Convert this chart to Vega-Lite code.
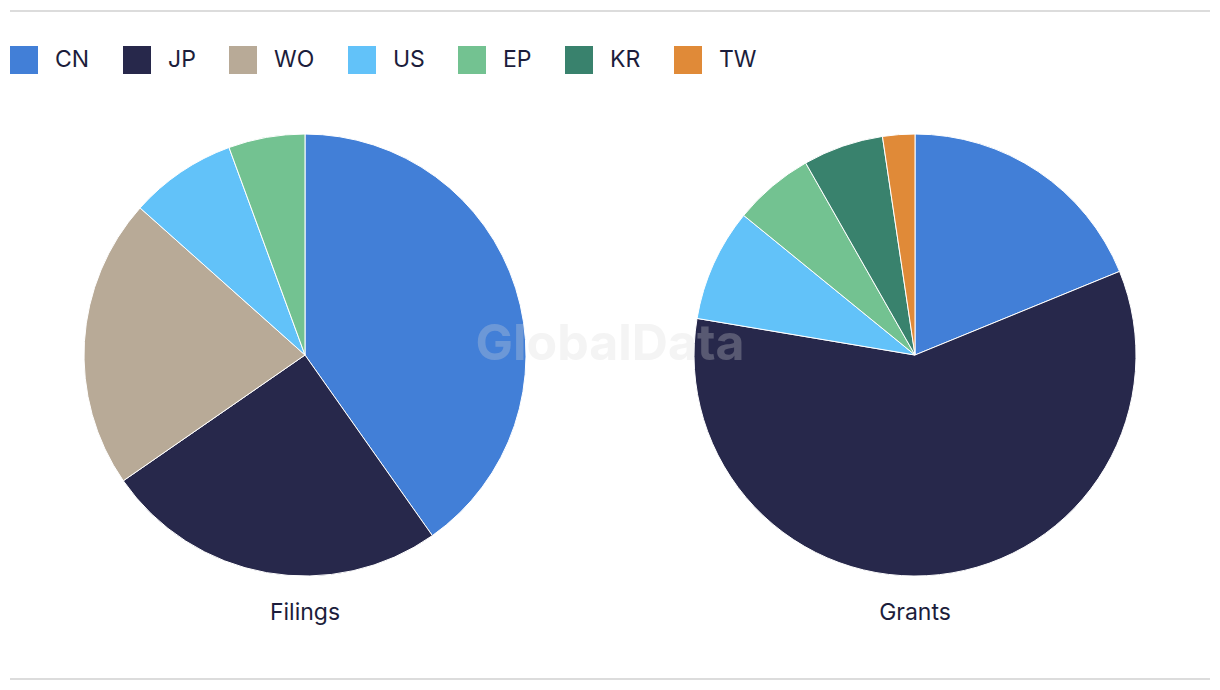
{
  "$schema": "https://vega.github.io/schema/vega-lite/v6.json",
  "width": 1200,
  "height": 668,
  "autosize": {"type": "none"},
  "padding": {"left": 10, "right": 10, "top": 11, "bottom": 11},
  "background": "white",
  "config": {"view": {"stroke": null}, "font": "Inter"},
  "data": {
    "values": [
      {"chart": "Filings", "country": "CN", "value": 72},
      {"chart": "Filings", "country": "JP", "value": 45},
      {"chart": "Filings", "country": "WO", "value": 38},
      {"chart": "Filings", "country": "US", "value": 14},
      {"chart": "Filings", "country": "EP", "value": 10},
      {"chart": "Grants", "country": "CN", "value": 16},
      {"chart": "Grants", "country": "JP", "value": 50},
      {"chart": "Grants", "country": "US", "value": 7},
      {"chart": "Grants", "country": "EP", "value": 5},
      {"chart": "Grants", "country": "KR", "value": 5},
      {"chart": "Grants", "country": "TW", "value": 2}
    ]
  },
  "layer": [
    {
      "data": {"values": [{"edge": "top"}]},
      "mark": {"type": "rule", "color": "#dcdcdc", "strokeWidth": 2},
      "encoding": {
        "y": {"datum": 1, "type": "quantitative", "scale": {"domain": [0, 1]}, "axis": null}
      }
    },
    {
      "data": {"values": [{"edge": "bottom"}]},
      "mark": {"type": "rule", "color": "#dcdcdc", "strokeWidth": 2},
      "encoding": {
        "y": {"datum": 0, "type": "quantitative", "scale": {"domain": [0, 1]}, "axis": null}
      }
    },
    {
      "transform": [
        {"calculate": "indexof(['CN','JP','WO','US','EP','KR','TW'], datum.country)", "as": "ord"},
        {"stack": "value", "groupby": ["chart"], "sort": [{"field": "ord", "order": "ascending"}], "offset": "normalize", "as": ["v0", "v1"]}
      ],
      "mark": {"type": "arc", "outerRadius": 221, "stroke": "white", "strokeWidth": 1},
      "encoding": {
        "x": {"field": "chart", "type": "nominal", "scale": {"type": "point", "domain": ["Filings", "Grants"], "padding": 0.4836}, "axis": null},
        "y": {"datum": 0.485, "type": "quantitative", "scale": {"domain": [0, 1]}, "axis": null},
        "theta": {"field": "v0", "type": "quantitative", "scale": {"domain": [0, 1], "range": [0, 6.283185307179586]}},
        "theta2": {"field": "v1"},
        "color": {
          "field": "country",
          "type": "nominal",
          "scale": {
            "domain": ["CN", "JP", "WO", "US", "EP", "KR", "TW"],
            "range": ["#427fd7", "#27284b", "#b8aa97", "#62c2f9", "#73c291", "#39826d", "#e08a38"]
          },
          "legend": {
            "title": null,
            "orient": "none",
            "legendX": 0,
            "legendY": 35,
            "direction": "horizontal",
            "symbolType": "square",
            "symbolSize": 784,
            "symbolStrokeWidth": 0,
            "symbolOpacity": 1,
            "labelFontSize": 23,
            "labelFont": "Inter",
            "labelColor": "#1c1d3b",
            "labelOffset": 17,
            "labelBaseline": "middle",
            "columnPadding": 33,
            "padding": 0
          }
        }
      }
    },
    {
      "transform": [{"aggregate": [{"op": "count", "as": "n"}], "groupby": ["chart"]}],
      "mark": {"type": "text", "fontSize": 23, "font": "Inter", "color": "#1c1d3b", "baseline": "middle"},
      "encoding": {
        "x": {"field": "chart", "type": "nominal", "scale": {"type": "point", "domain": ["Filings", "Grants"], "padding": 0.4836}, "axis": null},
        "y": {"datum": 0.099, "type": "quantitative", "scale": {"domain": [0, 1]}, "axis": null},
        "text": {"field": "chart"}
      }
    },
    {
      "data": {"values": [{"label": "GlobalData"}]},
      "mark": {"type": "text", "fontSize": 50, "font": "Inter", "fontWeight": "bold", "color": "#d8d8d8", "opacity": 0.28, "baseline": "middle"},
      "encoding": {
        "text": {"field": "label"}
      }
    }
  ]
}
